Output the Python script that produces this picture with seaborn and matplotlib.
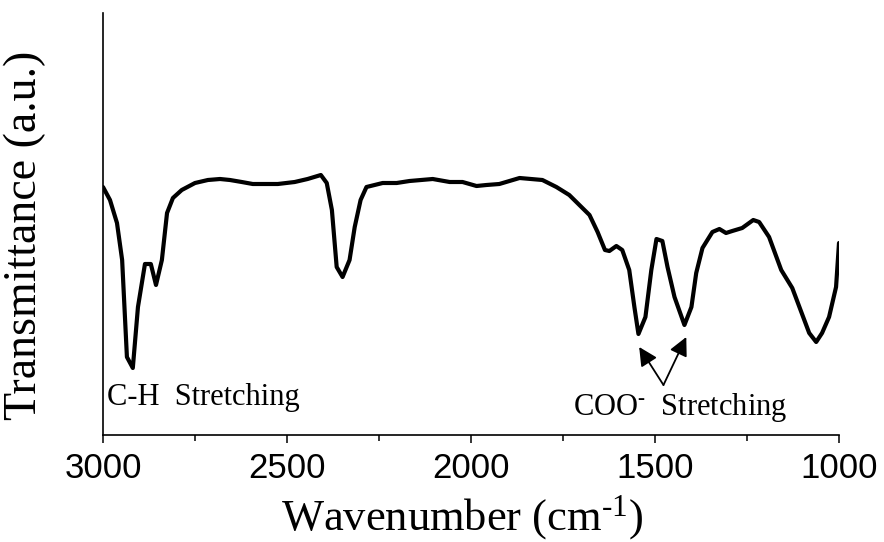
import matplotlib
matplotlib.use("Agg")
import matplotlib.pyplot as plt
import seaborn as sns
import pandas as pd

# Data (wavenumber in cm^-1, transmittance in a.u.)
wavenumber = [3000, 2981, 2962, 2948, 2935, 2919, 2905, 2886, 2870, 2856, 2840, 2826,
              2810, 2786, 2750, 2715, 2682, 2655, 2623, 2593, 2525, 2479, 2444, 2408,
              2392, 2378, 2365, 2349, 2330, 2316, 2300, 2284, 2240, 2202, 2167, 2104,
              2058, 2023, 1985, 1958, 1923, 1868, 1806, 1768, 1733, 1678, 1656, 1636,
              1624, 1605, 1589, 1570, 1556, 1545, 1526, 1510, 1496, 1480, 1466, 1447,
              1420, 1401, 1388, 1371, 1344, 1325, 1307, 1290, 1263, 1233, 1217, 1190,
              1157, 1127, 1081, 1062, 1046, 1027, 1008, 1000]
transmittance = [248, 235, 212, 175, 78, 67, 128, 171, 171, 150, 175, 222,
                 237, 245, 252, 255, 256, 255, 253, 251, 251, 253, 256, 260,
                 252, 225, 168, 158, 175, 208, 235, 248, 252, 252, 254, 256,
                 253, 253, 249, 250, 251, 257, 255, 248, 240, 220, 203, 185,
                 184, 189, 185, 165, 128, 101, 118, 165, 196, 194, 168, 138,
                 110, 128, 162, 187, 203, 206, 202, 204, 207, 215, 213, 198,
                 165, 147, 102, 93, 102, 118, 148, 192]

x_ticks = [3000, 2500, 2000, 1500, 1000]
x_minor = [2750, 2250, 1750, 1250]

ch_label = "C-H  Stretching"
coo_label = "COO$^{\u2010}$  Stretching"
x_label = "Wavenumber (cm$^{\u20101}$)"
y_label = "Transmittance (a.u.)"

sns.set_style("ticks")
plt.rcParams["font.family"] = ["Liberation Sans", "DejaVu Sans"]
plt.rcParams["mathtext.fontset"] = "custom"
plt.rcParams["mathtext.rm"] = "Liberation Serif"
plt.rcParams["mathtext.it"] = "Liberation Serif"
plt.rcParams["mathtext.default"] = "rm"
plt.rcParams["text.color"] = "black"
plt.rcParams["axes.labelcolor"] = "black"
plt.rcParams["xtick.color"] = "black"
plt.rcParams["ytick.color"] = "black"

df = pd.DataFrame({"w": wavenumber, "t": transmittance})

fig = plt.figure(figsize=(8.84, 5.42), dpi=100)
ax = fig.add_axes([103 / 884, (542 - 435) / 542, 736 / 884, 422 / 542])

sns.lineplot(data=df, x="w", y="t", color="black", lw=3, estimator=None,
             sort=True, ax=ax)

ax.set_xlim(3000, 1000)
ax.set_ylim(0, 422)
ax.set_xticks(x_ticks)
ax.set_xticks(x_minor, minor=True)
ax.set_xticklabels([str(v) for v in x_ticks], fontsize=25,
                   family=["Liberation Sans"], color="black")
ax.set_yticks([])
ax.tick_params(axis="x", which="major", length=6, width=1.1, direction="out",
               pad=6, color="black")
ax.tick_params(axis="x", which="minor", length=4, width=1.1, direction="out",
               color="black")
for s in ["top", "right"]:
    ax.spines[s].set_visible(False)
for s in ["left", "bottom"]:
    ax.spines[s].set_linewidth(1.2)
    ax.spines[s].set_color("black")

ax.set_xlabel(x_label, fontsize=32, family=["Liberation Serif"], color="black")
ax.xaxis.set_label_coords(0.488, -0.139)
ax.set_ylabel(y_label, fontsize=33, family=["Liberation Serif"], color="black")
ax.yaxis.set_label_coords(-0.077, 0.474)

ax.text(2989, 30, ch_label, fontsize=22, family=["Liberation Serif"],
        ha="left", va="baseline", color="black")
ax.text(1724, 20, coo_label, fontsize=22, family=["Liberation Serif"],
        ha="left", va="baseline", color="black")

arrow = dict(arrowstyle="-|>", mutation_scale=28, lw=1.3, color="black",
             shrinkA=0, shrinkB=0)
ax.annotate("", xy=(1543, 88), xytext=(1477, 50), arrowprops=arrow)
ax.annotate("", xy=(1415, 98), xytext=(1477, 50), arrowprops=arrow)

fig.savefig("out.png", dpi=100)
